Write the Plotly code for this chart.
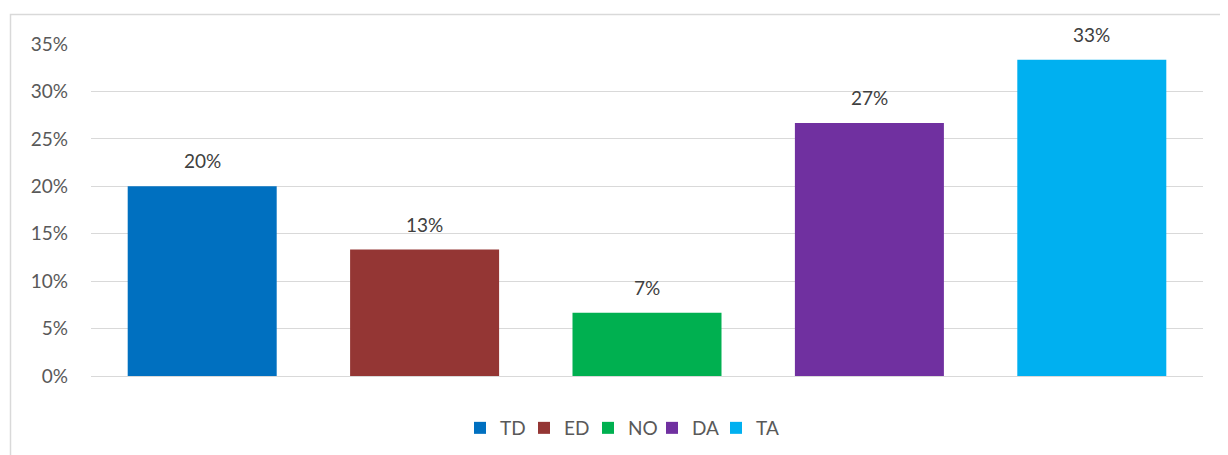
import plotly.graph_objects as go

categories = ["TD", "ED", "NO", "DA", "TA"]
values = [0.20, 0.1333, 0.0667, 0.2667, 0.3333]
colors = ["#0070C0", "#943634", "#00B050", "#7030A0", "#00B0F0"]
tick_vals = [0, 0.05, 0.10, 0.15, 0.20, 0.25, 0.30, 0.35]

FONT = "Lato, 'Open Sans', sans-serif"
FS = 19

fig = go.Figure()
for c, v, col in zip(categories, values, colors):
    fig.add_trace(go.Bar(x=[c], y=[v], name=c, marker=dict(color=col, line=dict(width=0)),
                         width=0.67, hoverinfo="skip"))

for c, v in zip(categories, values):
    fig.add_annotation(x=c, y=v, text=f"{round(v*100):d}%", showarrow=False,
                       yanchor="bottom", yshift=12,
                       font=dict(family=FONT, size=FS, color="#404040"))

# page has an 8px body margin; figure coordinates = page coordinates - 8
OFF = 8
W, H = 1228 - OFF, 455 - OFF
L, R, T = 91 - OFF, 1228 - 1203, 44 - OFF
B = H - (376 - OFF)
pw, ph = W - L - R, H - T - B

def px_to_paper_x(px):
    return (px - OFF - L) / pw

def px_to_paper_y(py):
    return (H - B - (py - OFF)) / ph

fig.add_shape(type="rect", xref="paper", yref="paper",
              x0=px_to_paper_x(10.5), y0=px_to_paper_y(480),
              x1=px_to_paper_x(1260), y1=px_to_paper_y(14.5),
              line=dict(color="#D9D9D9", width=1.5), fillcolor="rgba(0,0,0,0)", layer="below")

fig.update_layout(
    width=W, height=H, autosize=False,
    margin=dict(l=L, r=R, t=T, b=B, autoexpand=False),
    paper_bgcolor="white", plot_bgcolor="white",
    barmode="overlay",
    showlegend=True,
    legend=dict(orientation="h", x=px_to_paper_x(620), xanchor="center",
                y=px_to_paper_y(428), yanchor="middle",
                entrywidth=19, entrywidthmode="pixels",
                font=dict(family=FONT, size=FS, color="#595959"),
                itemclick=False, traceorder="normal"),
    font=dict(family=FONT, size=FS, color="#595959"),
    xaxis=dict(showticklabels=False, showgrid=False, showline=False, zeroline=False,
               ticks="", categoryorder="array", categoryarray=categories),
    yaxis=dict(range=[0, 0.35], tickvals=tick_vals, tickformat=".0%",
               showgrid=True, gridcolor="#D9D9D9", gridwidth=1,
               zeroline=True, zerolinecolor="#D9D9D9", zerolinewidth=1,
               showline=False, ticks="", ticklabelstandoff=22,
               tickfont=dict(family=FONT, size=FS, color="#595959")),
)

fig.write_html("out.html")
